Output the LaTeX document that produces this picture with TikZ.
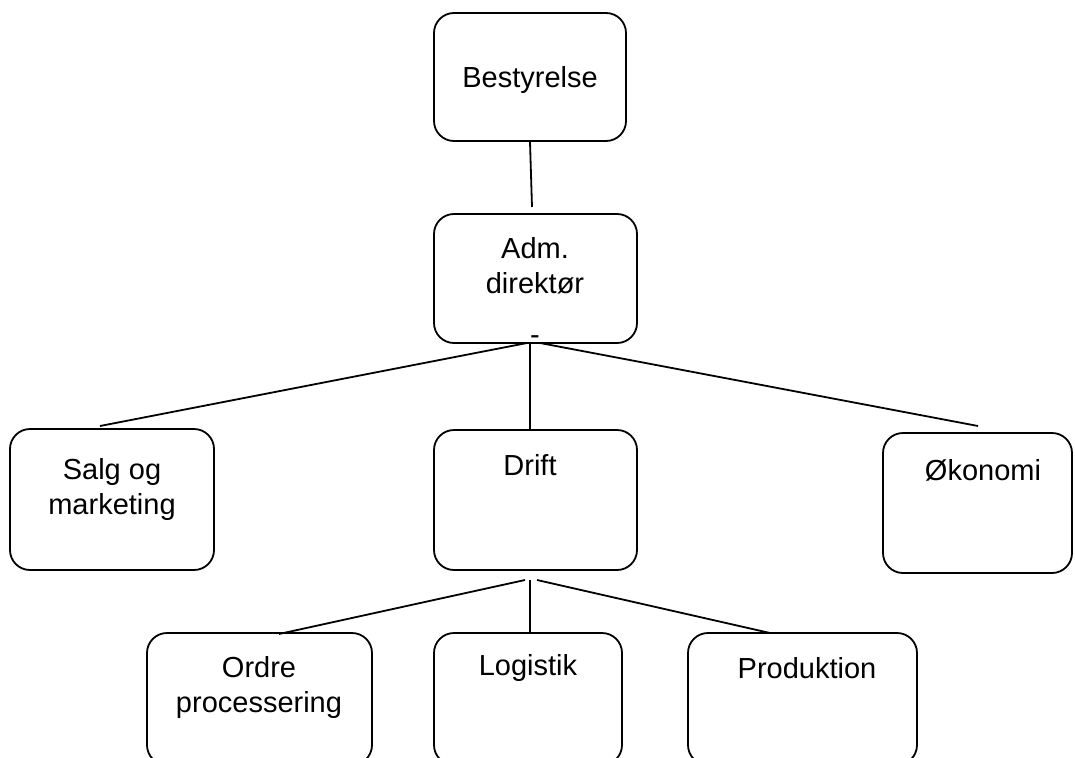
\documentclass[tikz,border=0pt]{standalone}
\usepackage{fontspec}
\setmainfont{Liberation Sans}
\begin{document}
\begin{tikzpicture}[x=1pt,y=-1pt,
  box/.style={draw, line width=1.8pt, rounded corners=20pt, inner sep=0pt},
  lbl/.style={inner sep=0pt, align=center, font=\fontsize{29}{35}\selectfont},
  conn/.style={line width=1.8pt}]
\useasboundingbox (0,0) rectangle (1075,757);
\clip (0,0) rectangle (1075,757);
% boxes
\node[box, minimum width=192pt, minimum height=128pt] (best) at (530,77) {};
\node[box, minimum width=203pt, minimum height=129pt] (adm) at (535.5,278.5) {};
\node[box, minimum width=204pt, minimum height=141pt] (salg) at (112,499.5) {};
\node[box, minimum width=203pt, minimum height=140pt] (drift) at (535.5,500) {};
\node[box, minimum width=189pt, minimum height=140pt] (oko) at (977.5,503) {};
\node[box, minimum width=225pt, minimum height=132pt] (ordre) at (259.5,699) {};
\node[box, minimum width=188pt, minimum height=132pt] (logi) at (528,699) {};
\node[box, minimum width=229pt, minimum height=132pt] (prod) at (802.5,699) {};
% texts
\node[lbl] (tbest) at (530,80) {Bestyrelse};
\node[lbl] (tadm) at (535,266) {Adm.\\direktør};
\node[lbl] (tdash) at (535,340) {-};
\node[lbl] (tsalg) at (112,489) {Salg og\\marketing};
\node[lbl] (tdrift) at (530,465) {Drift};
\node[lbl] (toko) at (983,470) {Økonomi};
\node[lbl] (tordre) at (259,687) {Ordre\\processering};
\node[lbl] (tlogi) at (528,668) {Logistik};
\node[lbl] (tprod) at (807,668) {Produktion};
% connector coordinates
\coordinate (bj) at (532,207);
\coordinate (aL) at (527,343);
\coordinate (aM) at (530,343);
\coordinate (aR) at (540,343);
\coordinate (sT) at (100,426);
\coordinate (dT) at (530,430);
\coordinate (oT) at (978,426);
\coordinate (dL) at (525,580);
\coordinate (dM) at (530,580);
\coordinate (dR) at (537,580);
\coordinate (orT) at (279,634);
\coordinate (lgT) at (530,633);
\coordinate (prT) at (770,633);
% connectors
\draw[conn] (best.south) -- (bj);
\draw[conn] (aL) -- (sT);
\draw[conn] (aM) -- (dT);
\draw[conn] (aR) -- (oT);
\draw[conn] (dL) -- (orT);
\draw[conn] (dM) -- (lgT);
\draw[conn] (dR) -- (prT);
\end{tikzpicture}
\end{document}
